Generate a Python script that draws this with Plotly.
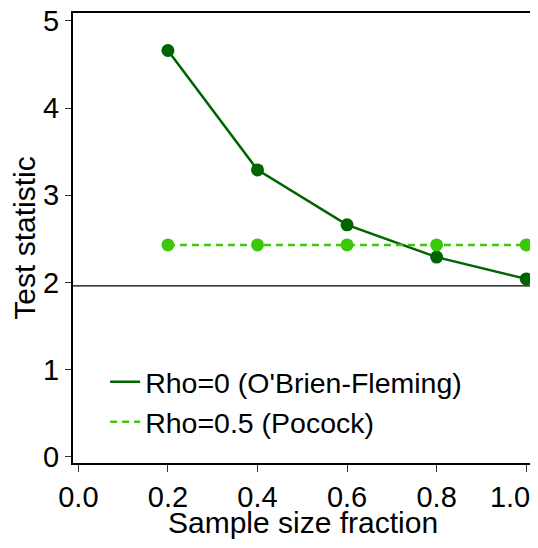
import plotly.graph_objects as go

fraction = [0.2, 0.4, 0.6, 0.8, 1.0]
obf_values = [4.66, 3.29, 2.66, 2.29, 2.04]
pocock_values = [2.43, 2.43, 2.43, 2.43, 2.43]
critical_value = 1.96
series_names = ["Rho=0 (O'Brien-Fleming)", "Rho=0.5 (Pocock)"]
x_title = "Sample size fraction"
y_title = "Test statistic"
x_ticks = [0.0, 0.2, 0.4, 0.6, 0.8, 1.0]
x_tick_labels = ["0.0", "0.2", "0.4", "0.6", "0.8", "1.0\u00a0\u00a0\u00a0\u00a0"]
y_ticks = [0, 1, 2, 3, 4, 5]

DARK = "#006400"
LIGHT = "#3cc80a"
FONT = "Liberation Sans, Arial, sans-serif"

fig = go.Figure()
# lines (legend entries)
fig.add_trace(go.Scatter(x=fraction, y=obf_values, mode="lines", name=series_names[0],
                         line=dict(color=DARK, width=2.5)))
fig.add_trace(go.Scatter(x=fraction, y=pocock_values, mode="lines", name=series_names[1],
                         line=dict(color=LIGHT, width=2.5, dash="7px,5px")))
# markers
fig.add_trace(go.Scatter(x=fraction, y=obf_values, mode="markers", showlegend=False,
                         marker=dict(color=DARK, size=13)))
fig.add_trace(go.Scatter(x=fraction, y=pocock_values, mode="markers", showlegend=False,
                         marker=dict(color=LIGHT, size=13)))

fig.add_hline(y=critical_value, line=dict(color="black", width=1.2), layer="below")

fig.add_annotation(text=x_title, xref="paper", yref="paper", x=0.5, y=-0.133,
                   xanchor="center", yanchor="middle", showarrow=False,
                   font=dict(family=FONT, size=30, color="black"))

fig.update_layout(
    width=530, height=532,
    margin=dict(l=65, r=6, t=5, b=77, autoexpand=False),
    paper_bgcolor="white", plot_bgcolor="white",
    font=dict(family=FONT, size=29, color="black"),
    showlegend=True,
    legend=dict(x=0.07, y=0.236, xanchor="left", yanchor="top",
                bgcolor="rgba(0,0,0,0)", font=dict(size=28.5), tracegroupgap=0,
                itemwidth=30),
)
fig.update_xaxes(
    range=[-0.012, 1.013], tickvals=x_ticks, ticktext=x_tick_labels,
    showgrid=False, zeroline=False, showline=True, linecolor="black", linewidth=2,
    mirror=True, ticks="outside", ticklen=7, tickwidth=1, tickcolor="#333",
    automargin=False, ticklabeloverflow="allow",
)
fig.update_yaxes(
    range=[-0.072, 5.09], tickvals=y_ticks,
    showgrid=False, zeroline=False, showline=True, linecolor="black", linewidth=2,
    mirror=True, ticks="outside", ticklen=6, tickwidth=1, tickcolor="#333",
    automargin=False, ticklabeloverflow="allow",
    title=dict(text=y_title, font=dict(size=30)),
)

fig.write_html("out.html")
